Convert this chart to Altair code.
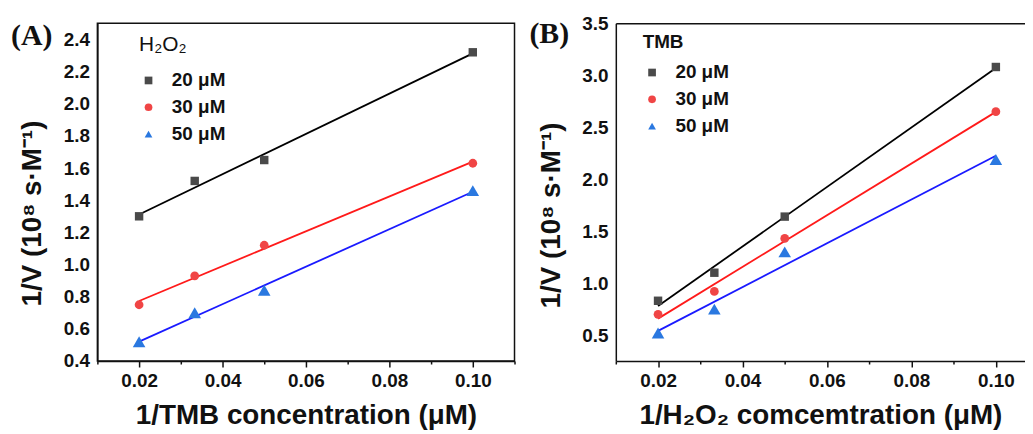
import altair as alt
import pandas as pd

# ---------------- data ----------------
x_vals = [0.02, 1 / 30, 0.05, 0.10]
series = ["20 μM", "30 μM", "50 μM"]

# Panel A: varying TMB, fixed H2O2
a_20 = [1.30, 1.52, 1.65, 2.32]
a_30 = [0.75, 0.93, 1.12, 1.63]
a_50 = [0.52, 0.70, 0.84, 1.46]

# Panel B: varying H2O2, fixed TMB
b_20 = [0.83, 1.10, 1.64, 3.08]
b_30 = [0.70, 0.92, 1.43, 2.65]
b_50 = [0.52, 0.75, 1.30, 2.19]

marker_colors = ["#4a4a4a", "#f04545", "#2a78e0"]
line_colors = ["#000000", "#ff1a1a", "#1a1aff"]
shapes = ["square", "circle", "triangle-up"]
marker_sizes = [72, 78, 160]

a_yticks = [0.4, 0.6, 0.8, 1.0, 1.2, 1.4, 1.6, 1.8, 2.0, 2.2, 2.4]
b_yticks = [0.5, 1.0, 1.5, 2.0, 2.5, 3.0, 3.5]
a_xticks = [0.01, 0.02, 0.03, 0.04, 0.05, 0.06, 0.07, 0.08, 0.09, 0.10, 0.11]
b_xticks = [0.01, 0.02, 0.03, 0.04, 0.05, 0.06, 0.07, 0.08, 0.09, 0.10]

FONT = "Liberation Sans"


def make_df(vals_list):
    rows = []
    for s, lc, ms, vals in zip(series, line_colors, marker_sizes, vals_list):
        for x, y in zip(x_vals, vals):
            rows.append({"x": x, "y": y, "series": s, "lc": lc, "ms": ms})
    return pd.DataFrame(rows)


def panel(df, label, label_y, xtitle, ytitle, legend_title, legend_title_weight,
          legend_title_size, ydomain, yticks, xdomain, xticks, width, legend_x,
          legend_y, legend_title_pad, title_y, framed):
    xscale = alt.Scale(domain=xdomain, nice=False, zero=False)
    yscale = alt.Scale(domain=ydomain, nice=False, zero=False)

    xaxis = alt.Axis(
        values=xticks,
        labelExpr="round(datum.value*100) % 2 == 0 ? format(datum.value, '.2f') : ''",
        tickSize=alt.condition("round(datum.value*100) % 2 == 1", alt.value(3), alt.value(6)),
        labelPadding=5, titlePadding=11, title=xtitle, labelFlush=False,
        labelOverlap=False, grid=False,
    )
    yaxis = alt.Axis(
        values=yticks, format=".1f", ticks=False, tickSize=0, labelPadding=8,
        minExtent=35, maxExtent=35, title=ytitle, titleX=-51, titleY=title_y,
        labelFlush=False, labelOverlap=False, grid=False,
    )
    legend = alt.Legend(
        title=legend_title, orient="none", legendX=legend_x, legendY=legend_y,
        titleFontSize=legend_title_size, titleFontWeight=legend_title_weight,
        titleFont=FONT, titleColor="#111", titlePadding=legend_title_pad,
        labelFontSize=19, labelFont=FONT, labelFontWeight="bold", labelColor="#111",
        labelOffset=14, symbolSize=60, rowPadding=7, symbolStrokeWidth=0,
        padding=0,
    )

    base = alt.Chart(df)
    lines = base.transform_regression(
        "x", "y", groupby=["series", "lc"], extent=[0.02, 0.10]
    ).mark_line(strokeWidth=1.8).encode(
        x=alt.X("x:Q", scale=xscale, axis=None if not framed else xaxis),
        y=alt.Y("y:Q", scale=yscale, axis=yaxis),
        stroke=alt.Stroke("lc:N", scale=None),
        detail="series:N",
    )
    points = base.mark_point(filled=True, opacity=1).encode(
        x=alt.X("x:Q", scale=xscale, axis=xaxis),
        y=alt.Y("y:Q", scale=yscale, axis=yaxis),
        color=alt.Color("series:N", scale=alt.Scale(domain=series, range=marker_colors), legend=legend),
        shape=alt.Shape("series:N", scale=alt.Scale(domain=series, range=shapes), legend=legend),
        size=alt.Size("ms:Q", scale=None, legend=None),
    )
    tag = alt.Chart(pd.DataFrame({"t": [label]})).mark_text(
        font="Liberation Serif", fontSize=30, fontWeight="bold", align="left",
        baseline="middle", color="#111",
    ).encode(x=alt.value(-87), y=alt.value(label_y), text="t:N")

    layers = [lines, points, tag]
    if not framed:
        top = base.mark_point(opacity=0).encode(
            x=alt.X("x:Q", scale=xscale, axis=alt.Axis(orient="top", labels=False, ticks=False, title=None, grid=False)),
            y=alt.Y("y:Q", scale=yscale, axis=yaxis),
        )
        layers.append(top)
    ch = alt.layer(*layers).properties(width=width, height=340)
    if framed:
        ch = ch.properties(view=alt.ViewBackground(stroke="#111", strokeWidth=1.5))
    else:
        ch = ch.resolve_axis(x="independent")
    return ch


df_a = make_df([a_20, a_30, a_50])
df_b = make_df([b_20, b_30, b_50])

left = panel(df_a, "(A)", 13, "1/TMB concentration (μM)", "1/V (10⁸ s·M⁻¹)",
             "H₂O₂", "normal", 21, [0.4, 2.5], a_yticks, [0.01, 0.11], a_xticks,
             420, 42, 11, 16, 191, True)
right = panel(df_b, "(B)", 11, "1/H₂O₂ comcemtration (μM)", "1/V (10⁸ s·M⁻¹)",
              "TMB", "bold", 19, [0.25, 3.5], b_yticks, [0.01, 0.1069], b_xticks,
              412, 27, 10, 11, 193, False)

chart = alt.hconcat(left, right, spacing=13).resolve_scale(
    color="independent", shape="independent"
).properties(
    padding={"left": 2, "top": 5, "right": 0, "bottom": 0},
    background="white",
).configure_view(stroke=None).configure_axis(
    labelFont=FONT, titleFont=FONT, labelFontSize=19, labelFontWeight="bold",
    titleFontSize=28, titleFontWeight="bold", labelColor="#111", titleColor="#111",
    domainColor="#111", domainWidth=1.5, tickColor="#111", tickWidth=1.5,
)

chart.save("out.html", embed_options={"renderer": "svg", "actions": False})
